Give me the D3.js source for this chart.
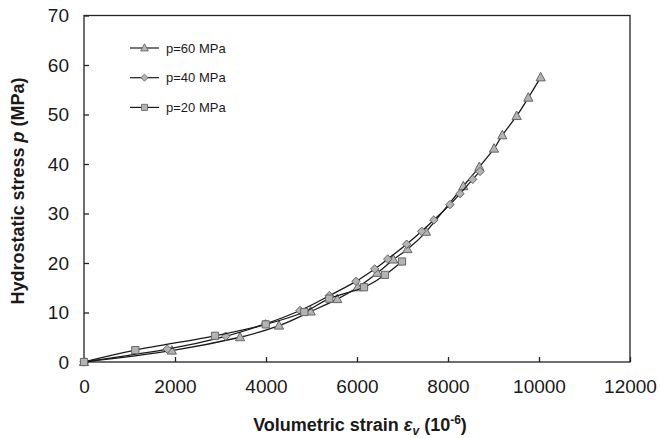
<!DOCTYPE html>
<html lang="en">
<head>
    <meta charset="UTF-8">
    <title>Hydrostatic stress vs volumetric strain</title>
    <style>
        body { margin: 0; background: #fff; }
        svg text { font-family: "Liberation Sans", Arial, sans-serif; fill: #1a1a1a; }
    </style>
</head>
<body>
<svg id="chart" width="660" height="438"></svg>

<script src="https://cdn.jsdelivr.net/npm/d3@7"></script>
<script>
    // p = 60 MPa (triangles)
    let strain60 = [0, 1930, 3430, 4286, 4982, 5567, 6015, 6446, 6798, 7106, 7516, 8337, 8688, 9011, 9193, 9509, 9765, 10037]
    let stress60 = [0, 2.3, 5.0, 7.35, 10.2, 12.7, 15.1, 18.0, 20.7, 22.8, 26.3, 35.5, 39.4, 43.1, 45.8, 49.7, 53.4, 57.5]
    // p = 40 MPa (diamonds)
    let strain40 = [0, 1831, 3114, 3990, 4747, 5392, 5978, 6389, 6675, 7092, 7422, 7690, 8044, 8264, 8543, 8703]
    let stress40 = [0, 2.6, 5.2, 7.7, 10.4, 13.4, 16.3, 18.8, 20.8, 23.8, 26.4, 28.7, 31.8, 34.0, 36.9, 38.5]
    // p = 20 MPa (squares)
    let strain20 = [0, 1128, 2879, 3993, 4842, 5392, 6154, 6615, 6989]
    let stress20 = [0, 2.4, 5.3, 7.6, 10.1, 12.8, 15.1, 17.6, 20.3]

    let seriesNames = ["p=60 MPa", "p=40 MPa", "p=20 MPa"]
    let xTicks = [0, 2000, 4000, 6000, 8000, 10000, 12000]
    let yTicks = [0, 10, 20, 30, 40, 50, 60, 70]

    let svg = d3.select("#chart")
    let x = d3.scaleLinear().domain([0, 12000]).range([84, 630])
    let y = d3.scaleLinear().domain([0, 70]).range([362, 15.5])

    let series = [
        { name: seriesNames[0], shape: "tri", pts: strain60.map((s, i) => [s, stress60[i]]) },
        { name: seriesNames[1], shape: "dia", pts: strain40.map((s, i) => [s, stress40[i]]) },
        { name: seriesNames[2], shape: "sq", pts: strain20.map((s, i) => [s, stress20[i]]) }
    ]

    function markerPath(shape) {
        if (shape == "tri") return "M0,-5L4.6,3.5L-4.6,3.5Z"
        if (shape == "dia") return "M0,-4.2L4.2,0L0,4.2L-4.2,0Z"
        return "M-3.6,-3.6H3.6V3.6H-3.6Z"
    }

    // plot frame
    svg.append("rect")
        .attr("x", x(0)).attr("y", y(70))
        .attr("width", x(12000) - x(0)).attr("height", y(0) - y(70))
        .attr("fill", "none").attr("stroke", "#222").attr("stroke-width", 1.3)

    let xAxis = svg.append("g")
        .attr("transform", `translate(0,${y(0)})`)
        .call(d3.axisBottom(x).tickValues(xTicks).tickSize(-5).tickPadding(18).tickFormat(d3.format("d")))
    let yAxis = svg.append("g")
        .attr("transform", `translate(${x(0)},0)`)
        .call(d3.axisLeft(y).tickValues(yTicks).tickSize(-5).tickPadding(15))

    for (let ax of [xAxis, yAxis]) {
        ax.select(".domain").remove()
        ax.selectAll(".tick line").attr("stroke", "#222").attr("stroke-width", 1.3)
        ax.selectAll(".tick text").style("font-size", "19px").attr("fill", "#1a1a1a")
    }

    let line = d3.line().x(d => x(d[0])).y(d => y(d[1])).curve(d3.curveCardinal.tension(0))

    let groups = svg.selectAll("g.series").data(series).enter()
        .append("g").attr("class", "series")

    groups.append("path")
        .attr("d", d => line(d.pts))
        .attr("fill", "none")
        .attr("stroke", "#1a1a1a")
        .attr("stroke-width", 1.3)

    groups.each(function (s) {
        d3.select(this).selectAll("path.mk").data(s.pts).enter()
            .append("path").attr("class", "mk")
            .attr("d", markerPath(s.shape))
            .attr("transform", d => `translate(${x(d[0])},${y(d[1])})`)
            .attr("fill", "#b3b3b3")
            .attr("stroke", "#666")
            .attr("stroke-width", 1)
    })

    // legend
    let legend = svg.append("g")
    series.forEach((s, i) => {
        let ly = 48 + i * 29.7
        legend.append("line").attr("x1", 130).attr("x2", 159).attr("y1", ly).attr("y2", ly)
            .attr("stroke", "#1a1a1a").attr("stroke-width", 1.2)
        legend.append("path").attr("d", markerPath(s.shape))
            .attr("transform", `translate(144.5,${ly}) scale(0.85)`)
            .attr("fill", "#b3b3b3").attr("stroke", "#666")
        legend.append("text").attr("x", 166).attr("y", ly + 4.5)
            .style("font-size", "13px").text(s.name)
    })

    // axis titles
    let xt = svg.append("text")
        .attr("x", 360).attr("y", 431)
        .attr("text-anchor", "middle")
        .style("font-size", "18px").style("font-weight", "bold")
    xt.append("tspan").text("Volumetric strain ")
    xt.append("tspan").style("font-style", "italic").text("ε")
    xt.append("tspan").style("font-style", "italic").style("font-size", "12px").attr("dy", 4).text("v")
    xt.append("tspan").attr("dy", -4).text(" (10")
    xt.append("tspan").style("font-size", "12px").attr("dy", -7).text("-6")
    xt.append("tspan").attr("dy", 7).text(")")

    let yt = svg.append("text")
        .attr("transform", "translate(24,191) rotate(-90)")
        .attr("text-anchor", "middle")
        .style("font-size", "18px").style("font-weight", "bold")
    yt.append("tspan").text("Hydrostatic stress ")
    yt.append("tspan").style("font-style", "italic").text("p")
    yt.append("tspan").text(" (MPa)")
</script>
</body>
</html>
